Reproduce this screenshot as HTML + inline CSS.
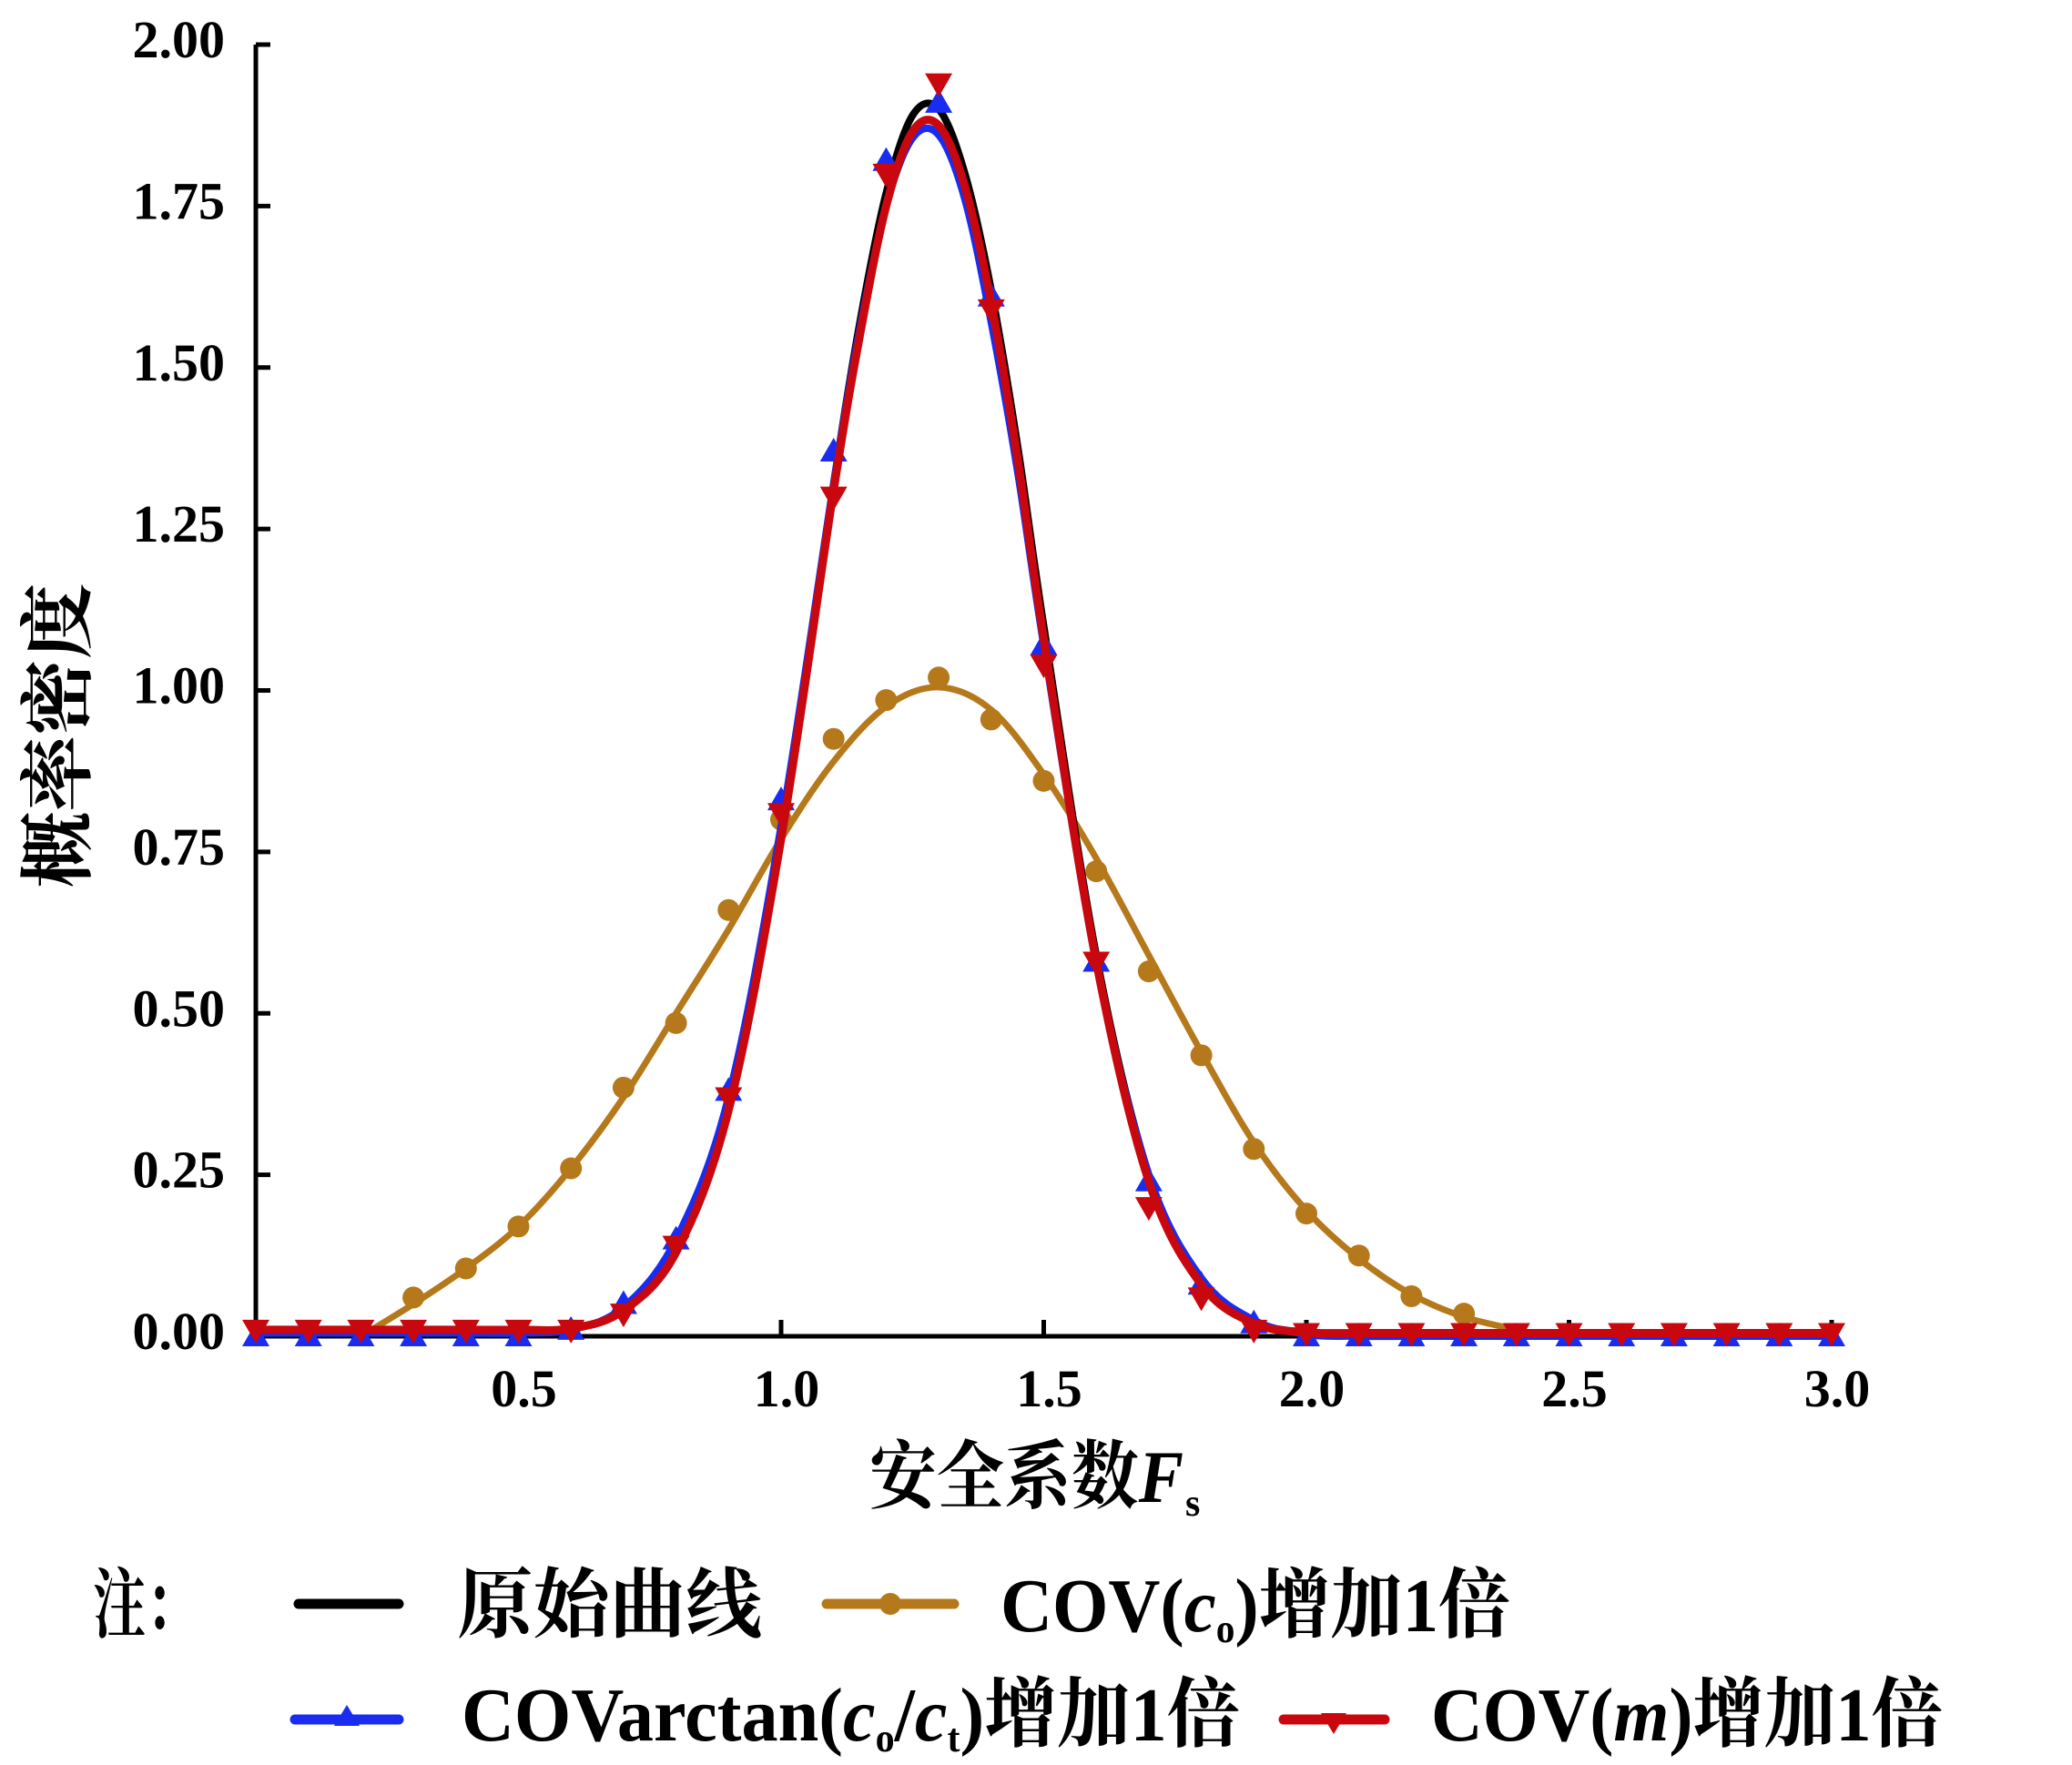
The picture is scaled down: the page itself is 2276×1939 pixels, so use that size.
<!DOCTYPE html>
<html><head><meta charset="utf-8"><style>
html,body{margin:0;padding:0;background:#fff;}
svg{display:block;}
</style></head><body>
<svg id="chart" width="2276" height="1939" viewBox="0 0 2276 1939" xmlns="http://www.w3.org/2000/svg">
<g id="axes"></g>
<g id="series"></g>
<text x="955" y="1650" font-family="'Liberation Serif','Noto Serif CJK SC',serif" font-size="82" font-weight="bold" textLength="345" lengthAdjust="spacingAndGlyphs">安全系数<tspan font-style="italic">F</tspan></text>
<text x="1302" y="1665" font-family="'Liberation Serif',serif" font-size="42" font-weight="bold">s</text>
<text transform="translate(92,808) rotate(-90)" text-anchor="middle" font-family="'Liberation Serif','Noto Serif CJK SC',serif" font-size="82" font-weight="bold" textLength="335" lengthAdjust="spacingAndGlyphs">概率密度</text>
<g font-family="'Liberation Serif','Noto Serif CJK SC',serif" font-size="84" font-weight="bold">
  <text x="102" y="1792" textLength="116" lengthAdjust="spacingAndGlyphs">注：</text>
  <g>
    <line x1="328" y1="1762" x2="438" y2="1762" stroke="#000" stroke-width="11" stroke-linecap="round"/>
    <text x="502" y="1792" textLength="335" lengthAdjust="spacingAndGlyphs">原始曲线</text>
  </g>
  <g>
    <line x1="908" y1="1762" x2="1048" y2="1762" stroke="#b5781a" stroke-width="11" stroke-linecap="round"/>
    <circle cx="978" cy="1762" r="12" fill="#b5781a"/>
    <text x="1099" y="1792" textLength="560" lengthAdjust="spacingAndGlyphs">COV(<tspan font-style="italic">c</tspan><tspan font-size="44" dy="12">o</tspan><tspan dy="-12">)增加1倍</tspan></text>
  </g>
  <g>
    <line x1="324" y1="1889" x2="438" y2="1889" stroke="#1a2cf0" stroke-width="11" stroke-linecap="round"/>
    <polygon points="381,1873 367,1896 395,1896" fill="#1a2cf0"/>
    <text x="507" y="1912" textLength="855" lengthAdjust="spacingAndGlyphs">COVarctan(<tspan font-style="italic">c</tspan><tspan font-size="44" dy="12">o</tspan><tspan dy="-12">/</tspan><tspan font-style="italic">c</tspan><tspan font-size="44" dy="12">t</tspan><tspan dy="-12">)增加1倍</tspan></text>
  </g>
  <g>
    <line x1="1410" y1="1889" x2="1521" y2="1889" stroke="#c8080e" stroke-width="11" stroke-linecap="round"/>
    <polygon points="1465,1905 1451,1882 1479,1882" fill="#c8080e"/>
    <text x="1572" y="1912" textLength="562" lengthAdjust="spacingAndGlyphs">COV(<tspan font-style="italic">m</tspan><tspan>)增加1倍</tspan></text>
  </g>
</g>
</svg>
<script>
// ---- data ----
const xTicks = [0.5, 1.0, 1.5, 2.0, 2.5, 3.0];
const xTickLabels = ["0.5", "1.0", "1.5", "2.0", "2.5", "3.0"];
const yTicks = [0, 0.25, 0.5, 0.75, 1.0, 1.25, 1.5, 1.75, 2.0];
const yTickLabels = ["0.00", "0.25", "0.50", "0.75", "1.00", "1.25", "1.50", "1.75", "2.00"];

const curveX = [0, 0.1, 0.2, 0.3, 0.4, 0.5, 0.6, 0.7, 0.8, 0.9, 1.0, 1.1, 1.15, 1.2, 1.25, 1.3, 1.35, 1.4, 1.45, 1.5, 1.6, 1.7, 1.8, 1.9, 2.0, 2.1, 2.2, 2.3, 2.4, 2.5, 2.6, 2.7, 2.8, 2.9, 3.0];
const originalY = [0.01, 0.01, 0.01, 0.01, 0.01, 0.01, 0.012, 0.04, 0.136, 0.37, 0.78, 1.32, 1.57, 1.77, 1.89, 1.90, 1.80, 1.62, 1.38, 1.10, 0.59, 0.25, 0.086, 0.023, 0.006, 0.005, 0.005, 0.005, 0.005, 0.005, 0.005, 0.005, 0.005, 0.005, 0.005];
const covMY = [0.01, 0.01, 0.01, 0.01, 0.01, 0.01, 0.012, 0.04, 0.13, 0.35, 0.77, 1.31, 1.55, 1.75, 1.865, 1.875, 1.78, 1.60, 1.36, 1.08, 0.58, 0.24, 0.08, 0.02, 0.006, 0.005, 0.005, 0.005, 0.005, 0.005, 0.005, 0.005, 0.005, 0.005, 0.005];
const covArctanY = [0.005, 0.005, 0.005, 0.005, 0.005, 0.005, 0.01, 0.045, 0.15, 0.37, 0.79, 1.32, 1.56, 1.75, 1.855, 1.86, 1.76, 1.57, 1.34, 1.07, 0.58, 0.25, 0.09, 0.025, 0.003, 0.0, 0.0, 0.0, 0.0, 0.0, 0.0, 0.0, 0.0, 0.0, 0.0];
const brownX = [0.2, 0.3, 0.4, 0.5, 0.6, 0.7, 0.8, 0.9, 1.0, 1.1, 1.2, 1.3, 1.4, 1.5, 1.6, 1.7, 1.8, 1.9, 2.0, 2.1, 2.2, 2.3, 2.4, 2.45];
const brownY = [0.0, 0.05, 0.105, 0.17, 0.26, 0.37, 0.50, 0.63, 0.77, 0.89, 0.975, 1.005, 0.97, 0.87, 0.74, 0.59, 0.44, 0.30, 0.195, 0.12, 0.065, 0.03, 0.01, 0.0];

const markX = [0, 0.1, 0.2, 0.3, 0.4, 0.5, 0.6, 0.7, 0.8, 0.9, 1.0, 1.1, 1.2, 1.3, 1.4, 1.5, 1.6, 1.7, 1.8, 1.9, 2.0, 2.1, 2.2, 2.3, 2.4, 2.5, 2.6, 2.7, 2.8, 2.9, 3.0];
const blueMarks = [0, 0, 0, 0, 0, 0, 0.01, 0.05, 0.15, 0.38, 0.83, 1.37, 1.82, 1.91, 1.61, 1.07, 0.58, 0.24, 0.08, 0.02, 0, 0, 0, 0, 0, 0, 0, 0, 0, 0, 0];
const redMarks = [0.01, 0.01, 0.01, 0.01, 0.01, 0.01, 0.01, 0.035, 0.14, 0.37, 0.81, 1.30, 1.80, 1.94, 1.59, 1.04, 0.58, 0.20, 0.06, 0.01, 0.005, 0.005, 0.005, 0.005, 0.005, 0.005, 0.005, 0.005, 0.005, 0.005, 0.005];
const brownMarkX = [0.3, 0.4, 0.5, 0.6, 0.7, 0.8, 0.9, 1.0, 1.1, 1.2, 1.3, 1.4, 1.5, 1.6, 1.7, 1.8, 1.9, 2.0, 2.1, 2.2, 2.3];
const brownMarks = [0.06, 0.105, 0.17, 0.26, 0.385, 0.485, 0.66, 0.80, 0.925, 0.985, 1.02, 0.955, 0.86, 0.72, 0.565, 0.435, 0.29, 0.19, 0.125, 0.062, 0.035];

// ---- scales ----
const X0 = 281, XPU = 577, Y0 = 1468, YPU = 709.5;
const sx = v => X0 + v * XPU;
const sy = v => Y0 - v * YPU;
const NS = "http://www.w3.org/2000/svg";
function mk(tag, parent, attrs) {
  const e = document.createElementNS(NS, tag);
  for (const k in attrs) e.setAttribute(k, attrs[k]);
  parent.appendChild(e);
  return e;
}
const axes = document.getElementById('axes');
const ser = document.getElementById('series');
const FONT = "'Liberation Serif',serif";

// axes
let yl = mk('line', axes, {x1: X0, y1: sy(2), x2: X0, y2: Y0 + 2, stroke: '#000', 'stroke-width': 5});


let xl = mk('line', axes, {x1: X0 - 2, y1: Y0, x2: sx(3), y2: Y0, stroke: '#000', 'stroke-width': 5});


yTicks.forEach((v, i) => {
  const t = mk('line', axes, {x1: X0, y1: sy(v), x2: X0 + 16, y2: sy(v), stroke: '#000', 'stroke-width': 5});
  
  
  const lb = mk('text', axes, {x: 247, y: sy(v) + 14, 'text-anchor': 'end', 'font-family': FONT, 'font-size': 58, 'font-weight': 'bold'});
  lb.textContent = yTickLabels[i];
  
  
});
xTicks.forEach((v, i) => {
  const t = mk('line', axes, {x1: sx(v), y1: Y0, x2: sx(v), y2: Y0 - 18, stroke: '#000', 'stroke-width': 5});
  
  
  const lb = mk('text', axes, {x: sx(v) + 6, y: 1545, 'text-anchor': 'middle', 'font-family': FONT, 'font-size': 58, 'font-weight': 'bold'});
  lb.textContent = xTickLabels[i];
  
  
});

function smoothPath(xs, ys) {
  const p = xs.map((x, i) => [sx(x), sy(ys[i])]);
  let d = 'M' + p[0][0] + ',' + p[0][1];
  for (let i = 0; i < p.length - 1; i++) {
    const a = p[Math.max(0, i - 1)], b = p[i], c = p[i + 1], e = p[Math.min(p.length - 1, i + 2)];
    const c1x = b[0] + (c[0] - a[0]) / 6, c1y = b[1] + (c[1] - a[1]) / 6;
    const c2x = c[0] - (e[0] - b[0]) / 6, c2y = c[1] - (e[1] - b[1]) / 6;
    d += ' C' + c1x + ',' + c1y + ' ' + c2x + ',' + c2y + ' ' + c[0] + ',' + c[1];
  }
  return d;
}

// brown
const bp = mk('path', ser, {d: smoothPath(brownX, brownY), fill: 'none', stroke: '#b5781a', 'stroke-width': 7, 'stroke-linejoin': 'round'});


brownMarkX.forEach((x, i) => {
  const c = mk('circle', ser, {cx: sx(x), cy: sy(brownMarks[i]), r: 12, fill: '#b5781a'});
  
  
});
// black
const kp = mk('path', ser, {d: smoothPath(curveX, originalY), fill: 'none', stroke: '#000', 'stroke-width': 8, 'stroke-linejoin': 'round'});


// blue
const blp = mk('path', ser, {d: smoothPath(curveX, covArctanY), fill: 'none', stroke: '#1a2cf0', 'stroke-width': 8, 'stroke-linejoin': 'round'});


markX.forEach((x, i) => {
  const cx = sx(x), cy = sy(blueMarks[i]);
  const t = mk('polygon', ser, {points: cx + ',' + (cy - 15) + ' ' + (cx - 15) + ',' + (cy + 11) + ' ' + (cx + 15) + ',' + (cy + 11), fill: '#1a2cf0'});
  
  
});
// red
const rp = mk('path', ser, {d: smoothPath(curveX, covMY), fill: 'none', stroke: '#c8080e', 'stroke-width': 9, 'stroke-linejoin': 'round'});


markX.forEach((x, i) => {
  const cx = sx(x), cy = sy(redMarks[i]);
  const t = mk('polygon', ser, {points: cx + ',' + (cy + 15) + ' ' + (cx - 15) + ',' + (cy - 11) + ' ' + (cx + 15) + ',' + (cy - 11), fill: '#c8080e'});
  
  
});
</script>
</body></html>
